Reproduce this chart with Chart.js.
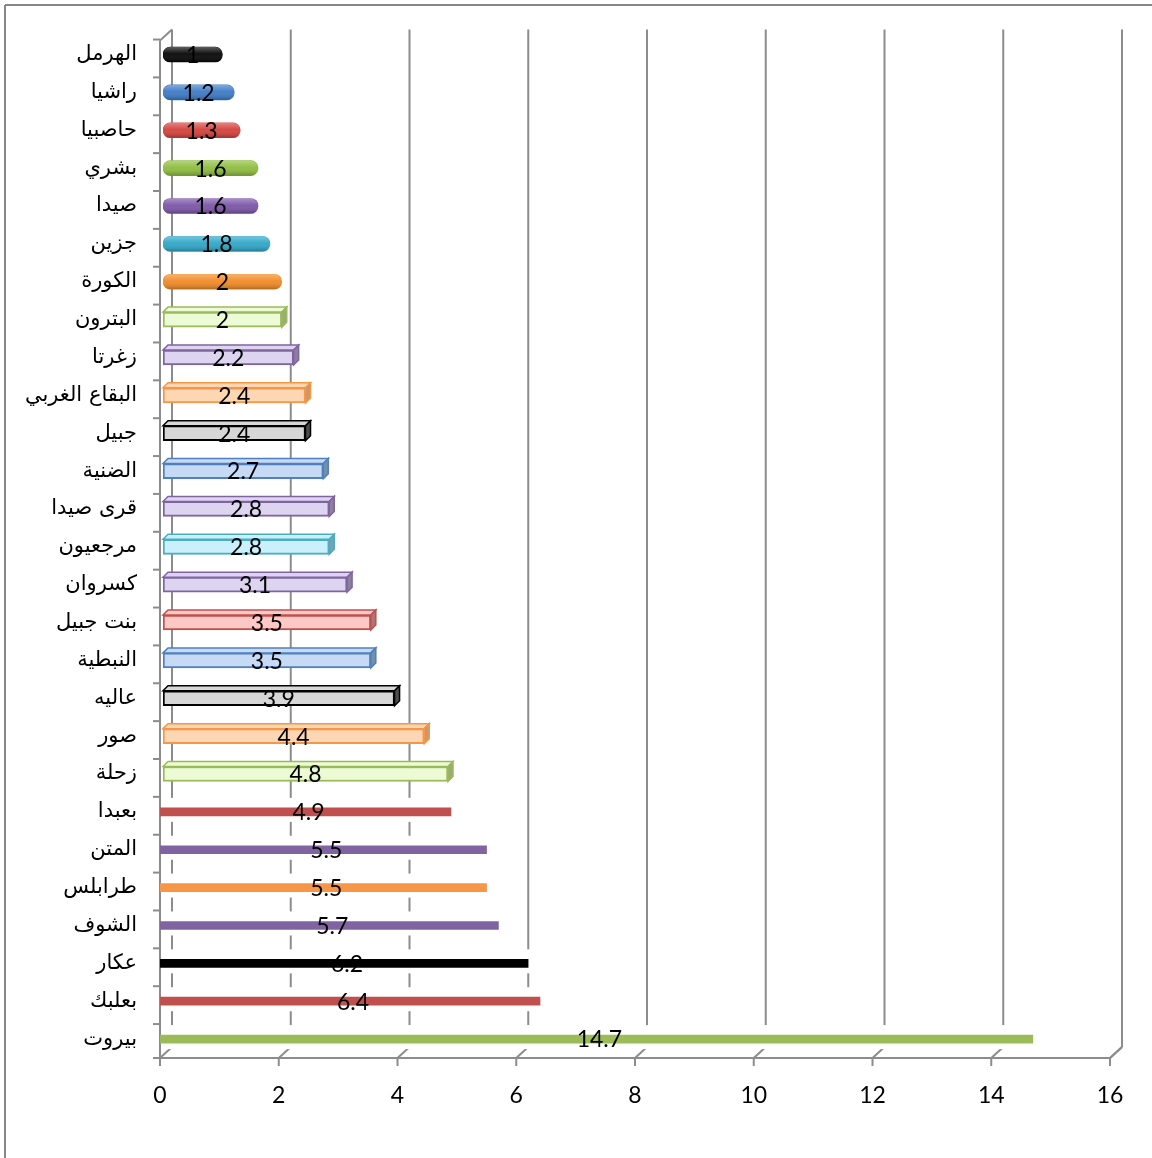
<!DOCTYPE html>
<html>
<head>
<meta charset="utf-8">
<script src="https://cdn.jsdelivr.net/npm/chart.js@4.4.0/dist/chart.umd.min.js"></script>
<style>
  html, body { margin: 0; padding: 0; background: #fff; }
</style>
</head>
<body>
<canvas id="chart" width="1152" height="1158"></canvas>
<script>
// categories, top to bottom
const categories = [
  "الهرمل", "راشيا", "حاصبيا", "بشري", "صيدا", "جزين", "الكورة",
  "البترون", "زغرتا", "البقاع الغربي", "جبيل", "الضنية", "قرى صيدا",
  "مرجعيون", "كسروان", "بنت جبيل", "النبطية", "عاليه", "صور", "زحلة",
  "بعبدا", "المتن", "طرابلس", "الشوف", "عكار", "بعلبك", "بيروت"
];
const values = [
  1, 1.2, 1.3, 1.6, 1.6, 1.8, 2,
  2, 2.2, 2.4, 2.4, 2.7, 2.8,
  2.8, 3.1, 3.5, 3.5, 3.9, 4.4, 4.8,
  4.9, 5.5, 5.5, 5.7, 6.2, 6.4, 14.7
];
const xTicks = [0, 2, 4, 6, 8, 10, 12, 14, 16];

const fills = [
  "#050505", "#3b7ac6", "#d5403c", "#8dbd3d", "#7b55a7", "#2ea6c8", "#f28a24",
  "#ecfbd6", "#ddd5f0", "#fdd7b4", "#d7d7d7", "#c6d9f5", "#ddd5f0",
  "#c9f0fb", "#ddd5f0", "#fdc9c7", "#c6d9f5", "#d7d7d7", "#fdd7b4", "#ecfbd6",
  "#c0504d", "#8064a2", "#f79646", "#8064a2", "#000000", "#c0504d", "#9bbb59"
];
const edges = [
  "#000000", "#2f66a8", "#b03030", "#76a030", "#644088", "#2090b0", "#d87010",
  "#9bbb59", "#8064a2", "#f79646", "#000000", "#4f81bd", "#8064a2",
  "#4bacc6", "#8064a2", "#c0504d", "#4f81bd", "#000000", "#f79646", "#9bbb59",
  "#c0504d", "#8064a2", "#f79646", "#8064a2", "#000000", "#c0504d", "#9bbb59"
];

// first 7 rounded bars, next 13 boxes, last 7 flat strips
const pillEnd = 7, boxEnd = 20;
const groupOf = i => (i < pillEnd ? 0 : i < boxEnd ? 1 : 2);
const pick = g => values.map((v, i) => (groupOf(i) === g ? v : null));

const depth = { dx: 12, dy: 11 };
const shift = 3; // bars sit a little behind the front axis plane
const gridColor = "#8c8c8c";

function seg(ctx, x1, y1, x2, y2) {
  ctx.beginPath();
  ctx.moveTo(x1, y1);
  ctx.lineTo(x2, y2);
  ctx.stroke();
}

const frame3d = {
  id: "frame3d",
  beforeDatasetsDraw(chart) {
    const { ctx, chartArea: a, scales: { x, y } } = chart;
    const wallTop = a.top - 6, floor = a.bottom - depth.dy;
    ctx.save();
    ctx.lineWidth = 2;

    // outer frame
    ctx.strokeStyle = "#878787";
    seg(ctx, 5, 5, chart.width, 5);
    seg(ctx, 5, 5, 5, chart.height);

    // back wall grid + floor slashes
    ctx.strokeStyle = gridColor;
    xTicks.forEach(v => {
      const px = x.getPixelForValue(v);
      seg(ctx, px + depth.dx, wallTop, px + depth.dx, floor);
      seg(ctx, px, a.bottom, px + depth.dx, floor);
    });

    // invisible boxes of the flat strips hide the grid
    ctx.fillStyle = "#ffffff";
    const flat = chart.getDatasetMeta(2);
    values.forEach((v, i) => {
      if (groupOf(i) !== 2) return;
      const el = flat.data[i];
      ctx.fillRect(el.base, el.y - 14, el.x + depth.dx - el.base, 24);
    });

    // front axes
    ctx.strokeStyle = gridColor;
    seg(ctx, a.left, a.top + 5, a.left, a.bottom);
    seg(ctx, a.left, a.top + 5, a.left + depth.dx, wallTop);
    categories.forEach((c, i) => {
      const ty = y.getPixelForValue(i) - 15;
      seg(ctx, a.left - 7, ty, a.left, ty);
    });
    seg(ctx, a.left - 7, a.bottom, a.right, a.bottom);
    xTicks.forEach(v => {
      const px = x.getPixelForValue(v);
      seg(ctx, px, a.bottom, px, a.bottom + 8);
    });
    const pr = x.getPixelForValue(16);
    seg(ctx, pr + depth.dx, floor, pr, a.bottom);
    ctx.restore();
  },
  beforeDatasetDraw(chart, args) {
    chart.ctx.save();
    if (args.index < 2) chart.ctx.translate(shift, 0);
  },
  afterDatasetDraw(chart) {
    chart.ctx.restore();
  },
  afterDatasetsDraw(chart) {
    const { ctx } = chart;
    const d = 5;
    ctx.save();

    // shading on the rounded bars
    const pill = chart.getDatasetMeta(0);
    values.forEach((v, i) => {
      if (groupOf(i) !== 0) return;
      const el = pill.data[i];
      const t = el.y - el.height / 2, h = el.height;
      const g = ctx.createLinearGradient(0, t, 0, t + h);
      g.addColorStop(0, "rgba(255,255,255,0.35)");
      g.addColorStop(0.45, "rgba(255,255,255,0.05)");
      g.addColorStop(1, "rgba(0,0,0,0.25)");
      ctx.fillStyle = g;
      ctx.beginPath();
      ctx.roundRect(el.base + shift, t, el.x - el.base, h, 8);
      ctx.fill();
    });

    // top and end faces of the boxes
    const box = chart.getDatasetMeta(1);
    values.forEach((v, i) => {
      if (groupOf(i) !== 1) return;
      const el = box.data[i];
      const x0 = el.base + shift, x1 = el.x + shift;
      const t = el.y - el.height / 2, b = el.y + el.height / 2;
      ctx.lineWidth = 1.5;
      ctx.strokeStyle = edges[i];
      ctx.fillStyle = fills[i];
      ctx.beginPath();
      ctx.moveTo(x0, t);
      ctx.lineTo(x0 + d, t - d);
      ctx.lineTo(x1 + d, t - d);
      ctx.lineTo(x1, t);
      ctx.closePath();
      ctx.fill();
      ctx.stroke();
      ctx.beginPath();
      ctx.moveTo(x1, t);
      ctx.lineTo(x1 + d, t - d);
      ctx.lineTo(x1 + d, b - d);
      ctx.lineTo(x1, b);
      ctx.closePath();
      ctx.fillStyle = "#9a9a9a";
      ctx.fill();
      ctx.globalAlpha = 0.5;
      ctx.fillStyle = edges[i];
      ctx.fill();
      ctx.globalAlpha = 1;
      ctx.stroke();
    });

    // value labels
    ctx.fillStyle = "#000";
    ctx.font = "23px Lato";
    ctx.textAlign = "center";
    ctx.textBaseline = "middle";
    values.forEach((v, i) => {
      const el = chart.getDatasetMeta(groupOf(i)).data[i];
      ctx.fillText(String(v), (el.base + el.x) / 2 + shift, el.y + 1);
    });
    ctx.restore();
  }
};

new Chart(document.getElementById("chart"), {
  type: "bar",
  data: {
    labels: categories,
    datasets: [
      {
        data: pick(0),
        backgroundColor: fills,
        borderWidth: 0,
        borderRadius: 8,
        borderSkipped: false,
        barThickness: 15
      },
      {
        data: pick(1),
        backgroundColor: fills,
        borderColor: edges,
        borderWidth: 2,
        borderSkipped: false,
        barThickness: 15
      },
      {
        data: pick(2),
        backgroundColor: fills,
        borderWidth: 0,
        barThickness: 8
      }
    ]
  },
  options: {
    indexAxis: "y",
    responsive: false,
    animation: false,
    skipNull: true,
    layout: { padding: { left: 0, top: 32, right: 42, bottom: 0 } },
    plugins: {
      legend: { display: false },
      tooltip: { enabled: false }
    },
    scales: {
      x: {
        min: 0,
        max: 16,
        grid: { display: false, drawTicks: false },
        border: { display: false },
        afterFit: s => { s.height = 100; },
        afterBuildTicks: s => { s.ticks = xTicks.map(v => ({ value: v })); },
        ticks: {
          color: "#000",
          padding: 24,
          font: { family: "Lato", size: 23 }
        }
      },
      y: {
        stacked: true,
        grid: { display: false, drawTicks: false },
        border: { display: false },
        afterFit: s => { s.width = 160; },
        ticks: {
          color: "#000",
          padding: 23,
          autoSkip: false,
          font: { family: "DejaVu Sans", size: 21 }
        }
      }
    }
  },
  plugins: [frame3d]
});
</script>
</body>
</html>
